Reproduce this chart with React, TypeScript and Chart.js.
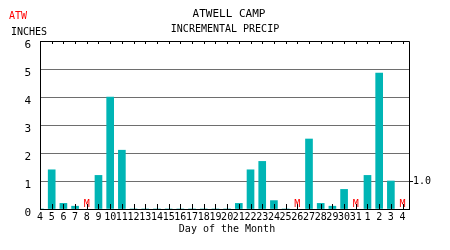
import { useEffect, useRef } from "react";
import { Chart, registerables } from "chart.js";

Chart.register(...registerables);

const dayLabels = ["4","5","6","7","8","9","10","11","12","13","14","15","16","17","18","19","20","21","22","23","24","25","26","27","28","29","30","31","1","2","3","4"];
const precip: (number | null)[] = [0, 1.4, 0.2, 0.1, null, 1.2, 4.0, 2.1, 0, 0, 0, 0, 0, 0, 0, 0, 0, 0.2, 1.4, 1.7, 0.3, 0, null, 2.5, 0.2, 0.1, 0.7, null, 1.2, 4.85, 1.0, null];
const yTicks = [0, 1, 2, 3, 4, 5, 6];
const refValue = 1.0;
const stationId = "ATW";
const titleLine1 = "ATWELL CAMP";
const titleLine2 = "INCREMENTAL PRECIP";
const unitLabel = "INCHES";
const xTitle = "Day of the Month";

const FONT = "'DejaVu Sans Mono', monospace";

export default function App() {
  const ref = useRef<HTMLCanvasElement | null>(null);
  useEffect(() => {
    if (!ref.current) return;
    const overlay = {
      id: "overlay",
      afterDraw(chart: any) {
        const { ctx, chartArea: a } = chart;
        const xs = chart.scales.x;
        const ys = chart.scales.y;
        ctx.save();
        ctx.strokeStyle = "#000";
        ctx.lineWidth = 1;
        ctx.beginPath();
        ctx.moveTo(a.left, Math.round(a.top) + 0.5);
        ctx.lineTo(Math.round(a.right) + 0.5, Math.round(a.top) + 0.5);
        ctx.lineTo(Math.round(a.right) + 0.5, Math.round(a.bottom));
        for (let i = 0; i < dayLabels.length; i++) {
          const x = Math.round(xs.getPixelForValue(i)) + 0.5;
          ctx.moveTo(x, a.top);
          ctx.lineTo(x, a.top + 3);
          ctx.moveTo(x, a.bottom);
          ctx.lineTo(x, a.bottom - 5);
        }
        const yr = Math.round(ys.getPixelForValue(refValue)) + 0.5;
        ctx.moveTo(a.right, yr);
        ctx.lineTo(a.right + 4, yr);
        ctx.stroke();

        ctx.fillStyle = "#000";
        ctx.font = `10px ${FONT}`;
        ctx.textBaseline = "middle";
        ctx.textAlign = "left";
        ctx.fillText(refValue.toFixed(1), a.right + 4, yr);

        ctx.fillStyle = "#f00";
        ctx.textAlign = "center";
        for (let i = 0; i < precip.length; i++) {
          if (precip[i] === null) {
            ctx.fillText("M", xs.getPixelForValue(i), a.bottom - 5);
          }
        }
        ctx.textAlign = "left";
        ctx.fillText(stationId, 9, 16);
        ctx.fillStyle = "#000";
        ctx.fillText(unitLabel, 11, 32);
        ctx.textAlign = "center";
        ctx.fillText(titleLine2, 225, 29.5);
        ctx.fillText(xTitle, 227, 229.5);
        ctx.font = `11px ${FONT}`;
        ctx.fillText(titleLine1, 229, 14);
        ctx.restore();
      },
    };
    const chart = new Chart(ref.current, {
      type: "bar",
      data: {
        datasets: [
          {
            data: precip.map((v, i) => ({ x: i, y: v })),
            backgroundColor: "#00b5b5",
            borderWidth: 0,
            barThickness: 7,
          },
        ],
      },
      options: {
        animation: false,
        responsive: true,
        maintainAspectRatio: false,
        layout: { padding: { left: 0, top: 41, right: 41, bottom: 0 } },
        plugins: { legend: { display: false }, tooltip: { enabled: false }, title: { display: false } },
        scales: {
          x: {
            type: "linear",
            offset: false,
            min: 0,
            max: 31.55,
            afterFit: (s: any) => { s.height = 41; },
            grid: { display: false, drawTicks: false, offset: false },
            border: { display: true, color: "#000" },
            ticks: {
              stepSize: 1,
              includeBounds: false,
              autoSkip: false,
              maxRotation: 0,
              minRotation: 0,
              padding: 2,
              color: "#000",
              font: { family: FONT, size: 10 },
              callback: (v: any) => (Number.isInteger(v) && dayLabels[v] !== undefined ? dayLabels[v] : ""),
            },
          },
          y: {
            min: yTicks[0],
            max: yTicks[yTicks.length - 1],
            afterFit: (s: any) => { s.width = 40; },
            grid: { color: "#6e6e6e", drawTicks: false },
            border: { display: true, color: "#000" },
            ticks: {
              stepSize: 1,
              padding: 9,
              labelOffset: 4,
              color: "#000",
              font: { family: FONT, size: 11 },
            },
          },
        },
      },
      plugins: [overlay],
    });
    return () => chart.destroy();
  }, []);
  return (
    <div style={{ position: "fixed", left: 0, top: 0, width: 450, height: 250, background: "#fff" }}>
      <canvas ref={ref} />
    </div>
  );
}
